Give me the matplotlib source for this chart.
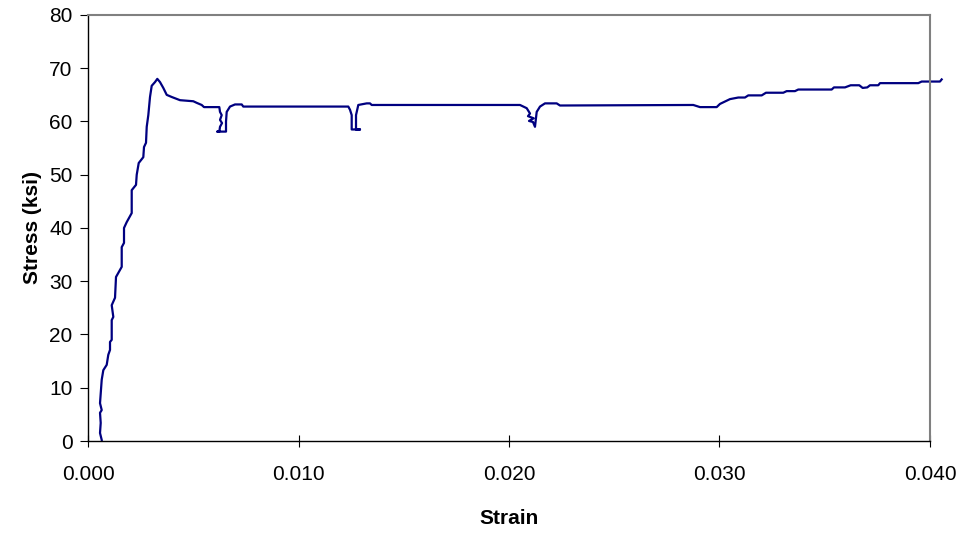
import matplotlib
matplotlib.use("Agg")
import matplotlib.pyplot as plt

plt.rcParams["font.family"] = ["Liberation Sans", "DejaVu Sans"]

# Measured stress-strain record for the tension coupon
strain = [
    0.000651, 0.000570, 0.000603, 0.000570, 0.000651, 0.000570, 0.000651,
    0.000727, 0.000888, 0.000964, 0.001045, 0.001045, 0.001126, 0.001126,
    0.001202, 0.001126, 0.001283, 0.001330, 0.001601, 0.001601, 0.001710,
    0.001710, 0.001838, 0.002076, 0.002076, 0.002280, 0.002314, 0.002409,
    0.002627, 0.002660, 0.002755, 0.002789, 0.002865, 0.002945, 0.003026,
    0.003183, 0.003292, 0.003420, 0.003577, 0.003739, 0.003976, 0.004371,
    0.005002, 0.005164, 0.005401, 0.005511, 0.006238, 0.006271, 0.006352,
    0.006271, 0.006366, 0.006271, 0.006238, 0.006143, 0.006556, 0.006556,
    0.006589, 0.006746, 0.006983, 0.007302, 0.007377, 0.012366, 0.012447,
    0.012527, 0.012527, 0.012922, 0.012732, 0.012732, 0.012841, 0.013240,
    0.013397, 0.013477, 0.020523, 0.020841, 0.020998, 0.020903, 0.021173,
    0.020950, 0.021140, 0.021235, 0.021316, 0.021473, 0.021710, 0.022266,
    0.022423, 0.028755, 0.029074, 0.029867, 0.030024, 0.030499, 0.030893,
    0.031211, 0.031368, 0.032005, 0.032209, 0.033031, 0.033192, 0.033587,
    0.033743, 0.035330, 0.035439, 0.035962, 0.036233, 0.036641, 0.036803,
    0.037021, 0.037150, 0.037544, 0.037625, 0.039444, 0.039606, 0.040475,
    0.040556,
]
stress = [
    0.2, 1.5, 3.4, 5.3, 5.8, 7.1, 11.5,
    13.3, 14.3, 16.2, 17.1, 18.6, 19.0, 22.7,
    23.3, 25.5, 26.9, 30.8, 32.7, 36.4, 37.2,
    40.0, 41.1, 42.8, 47.1, 48.1, 50.0, 52.2,
    53.3, 55.2, 56.0, 59.0, 61.2, 64.6, 66.7,
    67.4, 68.0, 67.4, 66.3, 65.0, 64.6, 64.0,
    63.8, 63.5, 63.1, 62.7, 62.7, 61.8, 61.2,
    60.3, 59.7, 59.0, 58.1, 58.1, 58.1, 60.0,
    61.8, 62.8, 63.2, 63.2, 62.8, 62.8, 62.2,
    61.2, 58.5, 58.5, 58.5, 61.2, 63.1, 63.4,
    63.4, 63.1, 63.1, 62.5, 61.5, 61.0, 60.6,
    60.1, 59.9, 59.0, 61.8, 62.8, 63.4, 63.4,
    63.0, 63.1, 62.7, 62.7, 63.3, 64.2, 64.5,
    64.5, 64.9, 64.9, 65.4, 65.4, 65.7, 65.7,
    66.0, 66.0, 66.4, 66.4, 66.8, 66.8, 66.3,
    66.4, 66.8, 66.8, 67.2, 67.2, 67.5, 67.5,
    67.9,
]

x_ticks = [0.000, 0.010, 0.020, 0.030, 0.040]
x_tick_labels = ["0.000", "0.010", "0.020", "0.030", "0.040"]
y_ticks = [0, 10, 20, 30, 40, 50, 60, 70, 80]

fig = plt.figure(figsize=(9.64, 5.33), dpi=100)
ax = fig.add_axes([0.0913, 0.1726, 0.8734, 0.7993])

ax.plot(strain, stress, color="#000080", linewidth=1.6, clip_on=False,
        solid_joinstyle="round")

ax.set_xlim(0, 0.040)
ax.set_ylim(0, 80)
ax.set_xticks(x_ticks)
ax.set_xticklabels(x_tick_labels)
ax.set_yticks(y_ticks)

ax.tick_params(axis="x", direction="inout", length=8, width=0.8,
               labelsize=15, pad=13, colors="black")
ax.tick_params(axis="y", direction="out", length=6, width=0.8,
               labelsize=15, pad=5, colors="black")

for side in ("left", "bottom"):
    ax.spines[side].set_color("black")
    ax.spines[side].set_linewidth(1.0)
for side in ("top", "right"):
    ax.spines[side].set_color("#808080")
    ax.spines[side].set_linewidth(1.5)

ax.set_xlabel("Strain", fontsize=15, fontweight="bold", labelpad=18)
ax.set_ylabel("Stress (ksi)", fontsize=15, fontweight="bold", labelpad=5)

fig.savefig("out.png", dpi=100)
